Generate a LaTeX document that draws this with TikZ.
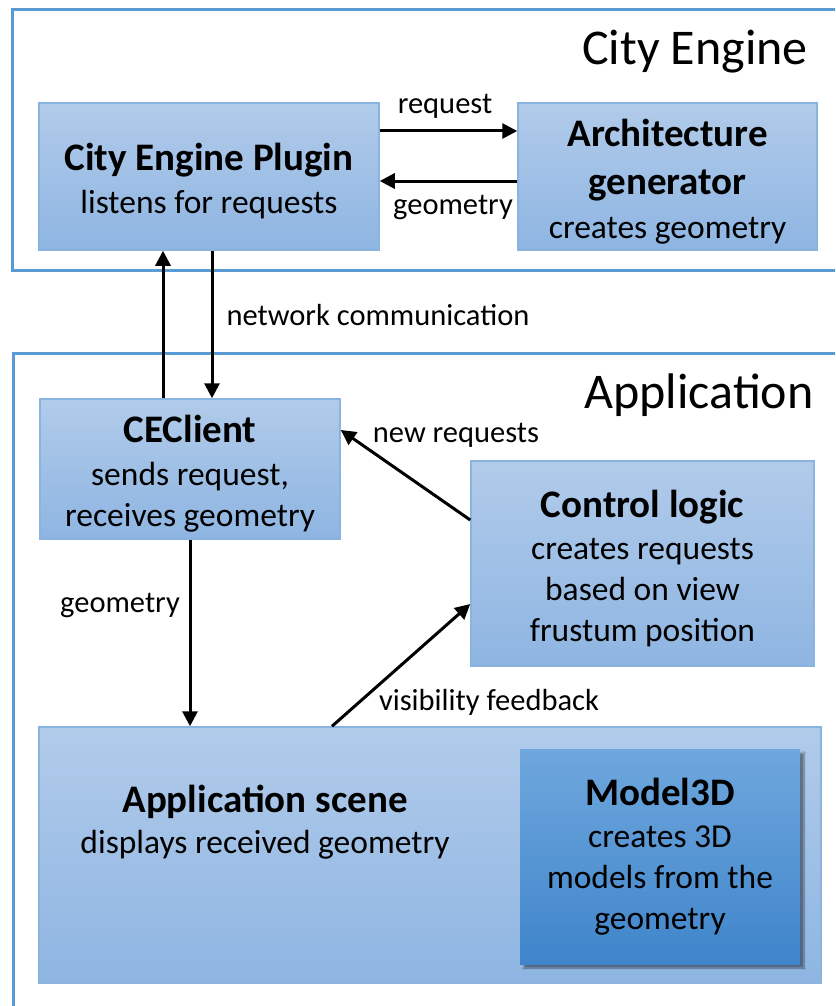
\documentclass[tikz,border=0pt]{standalone}
\usepackage{fontspec}
\setmainfont{Carlito}
\usetikzlibrary{arrows.meta,shadows,shadows.blur,calc}
\definecolor{frameblue}{HTML}{5B9BD5}
\definecolor{boxtop}{HTML}{B1CBEA}
\definecolor{boxbot}{HTML}{8EB5E2}
\definecolor{boxline}{HTML}{8AB3E0}
\definecolor{modtop}{HTML}{6FA7DD}
\definecolor{modbot}{HTML}{3F85CB}
\tikzset{
  frame/.style={draw=frameblue, line width=3pt},
  boxtext/.style={inner sep=0pt, align=center, font=\fontsize{33.5}{41}\selectfont},
  box/.style={boxtext, draw=boxline, line width=1.5pt, top color=boxtop, bottom color=boxbot},
  modbox/.style={boxtext, top color=modtop, bottom color=modbot,
    blur shadow={shadow xshift=4pt, shadow yshift=-4pt, shadow blur steps=6, shadow opacity=45}},
  arr/.style={line width=3pt, -{Triangle[length=15pt,width=15pt]}},
  lbl/.style={inner sep=0pt, font=\fontsize{30.5}{36}\selectfont},
  heading/.style={inner sep=0pt, font=\fontsize{50}{58}\selectfont},
}
\newcommand{\ttl}[1]{{\bfseries\fontsize{39}{41}\selectfont #1}}
\newcommand{\tstrut}{\rule{0pt}{37pt}}
\begin{document}
\begin{tikzpicture}[x=1pt,y=-1pt]
\useasboundingbox (0,0) rectangle (835,1006);
\clip (0,0) rectangle (835,1006);
\fill[white] (0,0) rectangle (835,1006);
% frames
\draw[frame] (12,10) rectangle (860,270);
\draw[frame] (13,353) rectangle (860,1030);
\node[heading] (hce) at (695,52) {City Engine};
\node[heading] (happ) at (699,395) {Application};
% boxes
\node[box, minimum width=340pt, minimum height=147pt] (plugin) at (209,176.5)
  {\tstrut\ttl{City Engine Plugin}\\[2pt]listens for requests};
\node[box, minimum width=299pt, minimum height=147pt] (arch) at (667.5,176.5)
  {\tstrut\ttl{Architecture}\\[7pt]\ttl{generator}\\[3pt]creates geometry};
\node[box, minimum width=300pt, minimum height=140pt] (ceclient) at (190,469)
  {\tstrut\ttl{CEClient}\\[2pt]sends request,\\receives geometry};
\node[box, minimum width=343pt, minimum height=205pt] (control) at (642.5,563.5)
  {\tstrut\ttl{Control logic}\\[1pt]creates requests\\based on view\\frustum position};
\node[box, minimum width=782pt, minimum height=256pt] (scene) at (430,855) {};
\node[boxtext] (scenetext) at (265,822)
  {\ttl{Application scene}\\displays received geometry};
\node[modbox, minimum width=280pt, minimum height=215pt] (model) at (660,856.5)
  {\ttl{Model3D}\\[1pt]creates 3D\\models from the\\geometry};
% connectors
\draw[arr] (plugin.east |- 0,131) -- (arch.west |- 0,131);
\draw[arr] (arch.west |- 0,181) -- (plugin.east |- 0,181);
\node[lbl] (lreq) at (445,106) {request};
\node[lbl] (lgeo1) at (453,207) {geometry};
\draw[arr] (ceclient.north -| 163,0) -- (plugin.south -| 163,0);
\draw[arr] (plugin.south -| 212,0) -- (ceclient.north -| 212,0);
\node[lbl] (lnet) at (378,315) {network communication};
\draw[arr] (control.west |- 0,520) -- (ceclient.east |- 0,430);
\node[lbl] (lnew) at (456,435) {new requests};
\draw[arr] (ceclient.south) -- (scene.north -| ceclient.south);
\node[lbl] (lgeo2) at (120,605) {geometry};
\draw[arr] (scene.north -| 332,0) -- (control.west |- 0,604);
\node[lbl] (lvis) at (489,702) {visibility feedback};
\end{tikzpicture}
\end{document}
